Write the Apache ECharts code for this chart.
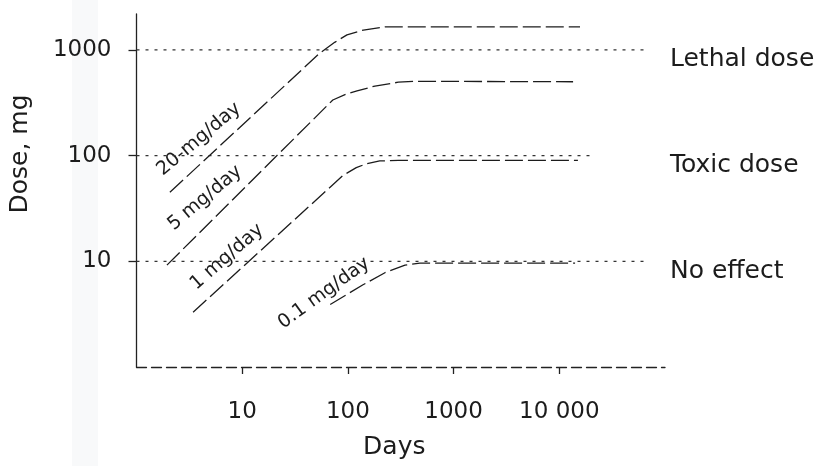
<!DOCTYPE html>
<html><head><meta charset="utf-8">
<script src="https://cdn.jsdelivr.net/npm/echarts@6/dist/echarts.min.js"></script>
<style>html,body{margin:0;padding:0;background:#fff}#c{width:824px;height:466px}</style>
</head><body><div id="c"></div>
<script>
// ---- data (days, mg) ----
const curveNames = ['20-mg/day', '5 mg/day', '1 mg/day', '0.1 mg/day'];
const dose20 = [[2.07, 45], [54, 930], [75, 1180], [98, 1390], [140, 1540], [224, 1650], [15700, 1650]];
const dose5 = [[1.94, 9.2], [72, 336], [95, 380], [122, 410], [180, 455], [300, 495], [431, 505], [13500, 500]];
const dose1 = [[3.43, 3.3], [90, 65], [120, 77], [151, 84], [200, 89], [300, 90], [15000, 90]];
const dose01 = [[68, 3.9], [139, 6.0], [224, 7.8], [347, 9.2], [480, 9.6], [14100, 9.6]];
const refNames = ['Lethal dose', 'Toxic dose', 'No effect'];
const refValues = [1000, 100, 10];
const refEndDays = [69000, 19500, 69000];
const xTicks = [10, 100, 1000, 10000];
const xTickLabels = ['10', '100', '1000', '10 000'];
const yTicks = [10, 100, 1000];
const yTickLabels = ['10', '100', '1000'];

// label placement (data coordinates of label centres, rotation in degrees)
const labelAnchors = [[3.9, 143], [4.45, 39.7], [7.18, 11.0], [59.4, 5.0]];
const labelAngles = [40, 40, 41, 36];

const FONT = '"DejaVu Sans", sans-serif';
const INK = '#1c1c1c';
const chart = echarts.init(document.getElementById('c'), null, {renderer: 'canvas'});

const curves = [dose20, dose5, dose1, dose01].map((d, i) => ({
  name: curveNames[i], type: 'line', data: d, symbol: 'none', smooth: false,
  lineStyle: {color: INK, width: 1.3, type: [18, 5]}, z: 3
}));
const refs = refValues.map((v, i) => ({
  name: refNames[i], type: 'line', data: [[1, v], [refEndDays[i], v]], symbol: 'none',
  lineStyle: {color: '#333', width: 1.3, type: [3, 6]}, z: 2,
  endLabel: {show: true, formatter: refNames[i], distance: i === 1 ? 80 : 22, offset: [0, 10],
    fontFamily: FONT, fontSize: 25, color: INK}
}));

chart.setOption({
  animation: false,
  backgroundColor: '#fff',
  grid: {left: 136.5, right: 159, top: 14, bottom: 99},
  xAxis: {
    type: 'log', logBase: 10, min: 1, max: 100000,
    name: 'Days', nameLocation: 'middle', nameGap: 68,
    nameTextStyle: {fontFamily: FONT, fontSize: 25, color: INK, padding: [0, 13, 0, 0]},
    axisLine: {show: true, lineStyle: {color: '#222', width: 1.3, type: [10, 5]}},
    axisTick: {show: true, customValues: xTicks, length: 7, lineStyle: {color: '#222', width: 1.3}},
    axisLabel: {customValues: xTicks, formatter: v => xTickLabels[xTicks.indexOf(v)] || '',
      margin: 34, fontFamily: FONT, fontSize: 23, color: INK},
    splitLine: {show: false}, minorTick: {show: false}
  },
  yAxis: {
    type: 'log', logBase: 10, min: 1, max: 2188,
    axisLine: {show: true, lineStyle: {color: '#222', width: 1.3}},
    axisTick: {show: true, customValues: yTicks, length: 8, lineStyle: {color: '#222', width: 1.3}},
    axisLabel: {customValues: yTicks, formatter: v => yTickLabels[yTicks.indexOf(v)] || '',
      margin: 25, fontFamily: FONT, fontSize: 23, color: INK},
    splitLine: {show: false}
  },
  series: curves.concat(refs)
});

const graphics = [
  {type: 'rect', shape: {x: 72, y: 0, width: 26, height: 466}, style: {fill: '#f8f9fa'}, z: -10, silent: true},
  {type: 'text', x: 20, y: 154, rotation: Math.PI / 2,
    style: {text: 'Dose, mg', font: '25px ' + FONT, fill: INK, textAlign: 'center', textVerticalAlign: 'middle'}}
];
labelAnchors.forEach((a, i) => {
  const p = chart.convertToPixel({gridIndex: 0}, a);
  graphics.push({type: 'text', x: p[0], y: p[1], rotation: labelAngles[i] * Math.PI / 180,
    style: {text: curveNames[i], font: '19px ' + FONT, fill: INK, textAlign: 'center', textVerticalAlign: 'middle'}});
});
chart.setOption({graphic: graphics});
</script>
</body></html>
